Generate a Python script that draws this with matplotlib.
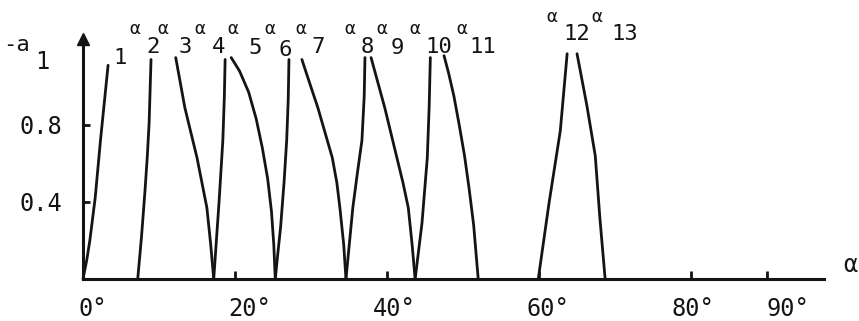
import matplotlib
matplotlib.use("Agg")
import matplotlib.pyplot as plt
from matplotlib.transforms import ScaledTranslation

# ---- data ----
branch_alpha = [
    [0.0, 0.5, 0.9, 1.6, 2.3, 3.3],
    [7.2, 7.7, 8.16, 8.45, 8.7, 8.95],
    [12.2, 13.4, 15.0, 16.3, 16.8, 17.2],
    [17.2, 17.9, 18.4, 18.6, 18.7],
    [19.5, 20.6, 21.8, 22.8, 23.6, 24.3, 24.8, 25.1, 25.3],
    [25.3, 25.6, 26.0, 26.45, 26.8, 27.0, 27.1],
    [28.8, 29.8, 30.9, 32.8, 33.4, 33.8, 34.3, 34.6],
    [34.6, 35.5, 36.1, 36.7, 37.0, 37.1],
    [37.9, 38.8, 39.7, 41.3, 42.1, 42.8, 43.3, 43.7],
    [43.7, 44.6, 45.3, 45.55, 45.7],
    [47.5, 48.1, 48.8, 49.5, 50.2, 50.8, 51.4, 52.0],
    [59.9, 61.3, 62.8, 63.7],
    [65.0, 66.3, 67.4, 68.0, 68.7],
]
branch_a1 = [
    [0.0, 0.10, 0.20, 0.42, 0.72, 1.11],
    [0.0, 0.22, 0.46, 0.63, 0.81, 1.14],
    [1.15, 0.89, 0.63, 0.37, 0.18, 0.0],
    [0.0, 0.40, 0.72, 0.95, 1.14],
    [1.15, 1.08, 0.97, 0.83, 0.68, 0.52, 0.35, 0.18, 0.0],
    [0.0, 0.12, 0.27, 0.50, 0.72, 0.93, 1.14],
    [1.14, 1.02, 0.89, 0.63, 0.50, 0.37, 0.18, 0.0],
    [0.0, 0.37, 0.55, 0.72, 0.95, 1.15],
    [1.15, 1.02, 0.89, 0.63, 0.50, 0.37, 0.18, 0.0],
    [0.0, 0.29, 0.63, 0.90, 1.15],
    [1.16, 1.07, 0.95, 0.80, 0.64, 0.47, 0.28, 0.0],
    [0.0, 0.39, 0.77, 1.17],
    [1.17, 0.90, 0.64, 0.32, 0.0],
]
branch_names = ["1", "2", "3", "4", "5", "6", "7", "8", "9", "10", "11", "12", "13"]
x_ticks = [0, 20, 40, 60, 80, 90]
x_ticklabels = ["0°", "20°", "40°", "60°", "80°", "90°"]
y_ticks = [0.4, 0.8]
y_ticklabels = ["0.4", "0.8"]

# ---- label placement (data coords) ----
digit_pos = [(4.9, 1.15), (9.2, 1.205), (13.4, 1.205), (17.8, 1.205), (22.6, 1.2),
             (26.6, 1.19), (30.9, 1.205), (37.4, 1.205), (41.4, 1.2), (46.8, 1.205),
             (52.6, 1.205), (65.0, 1.27), (71.3, 1.27)]
alpha_pos = [None, (6.8, 1.30), (10.5, 1.30), (15.4, 1.30), (19.7, 1.30),
             (24.6, 1.30), (28.6, 1.30), (35.1, 1.30), (39.3, 1.30), (43.7, 1.30),
             (49.9, 1.30), (61.7, 1.36), (67.6, 1.36)]
xlabel_dx_px = [10, 15, 7, 9, 2, 21]

FONT = "DejaVu Sans Mono"
plt.rcParams["font.family"] = [FONT, "DejaVu Sans"]
INK = "#141414"

fig = plt.figure(figsize=(8.59, 3.21), dpi=100)
fig.patch.set_facecolor("white")
ax = fig.add_axes([0, 0, 1, 1])
ax.set_facecolor("white")
ax.set_xlim(-10.92, 102.1)
ax.set_ylim(-0.218, 1.449)

for xs, ys in zip(branch_alpha, branch_a1):
    ax.plot(xs, ys, color=INK, lw=2.0, solid_capstyle="round", solid_joinstyle="round")

# axes as spines through the origin
for s in ["top", "right"]:
    ax.spines[s].set_visible(False)
ax.spines["left"].set_position(("data", 0))
ax.spines["bottom"].set_position(("data", 0))
ax.spines["left"].set_bounds(0, 1.24)
ax.spines["bottom"].set_bounds(0, 97.5)
for s in ["left", "bottom"]:
    ax.spines[s].set_linewidth(2.2)
    ax.spines[s].set_color(INK)
ax.plot([0], [1.245], marker="^", color=INK, markersize=9, clip_on=False)

ax.set_xticks(x_ticks)
ax.set_xticklabels(x_ticklabels)
ax.set_yticks(y_ticks)
ax.set_yticklabels(y_ticklabels)
ax.tick_params(axis="x", direction="in", length=6, width=2, color=INK,
               labelsize=17, pad=13, labelcolor=INK)
ax.tick_params(axis="y", direction="in", length=5, width=2, color=INK,
               labelsize=17, pad=15, labelcolor=INK)
for lab, dx in zip(ax.get_xticklabels(), xlabel_dx_px):
    lab.set_transform(lab.get_transform() + ScaledTranslation(dx / 100, 0, fig.dpi_scale_trans))

# branch labels
for name, dp, ap in zip(branch_names, digit_pos, alpha_pos):
    ax.text(dp[0], dp[1], name, fontsize=16, ha="center", va="center", color=INK)
    if ap is not None:
        ax.text(ap[0], ap[1], "α", fontsize=13, ha="center", va="center", color=INK)

# axis titles
ax.text(-8.8, 1.215, "-a", fontsize=16, ha="center", va="center", color=INK)
ax.text(-5.3, 1.125, "1", fontsize=17, ha="center", va="center", color=INK)
ax.text(100.9, 0.075, "α", fontsize=17, ha="center", va="center", color=INK)

fig.savefig("out.png", dpi=100, facecolor="white")
